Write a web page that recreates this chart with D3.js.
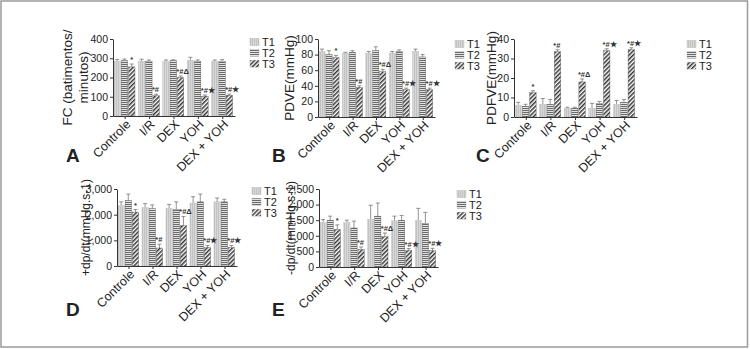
<!DOCTYPE html>
<html>
<head>
<meta charset="utf-8">
<script src="https://cdn.jsdelivr.net/npm/d3@7"></script>
<style>
  body { margin: 0; background: #fff; }
  svg text { font-family: "Liberation Sans Narrow", "Liberation Sans", Arial, sans-serif; fill: #222; }
  .axis path, .axis line { stroke: #333; stroke-width: 1; }
  .axis text { font-size: 10.5px; fill: #222; }
</style>
</head>
<body>
<div id="chart"></div>
<script>
//////////
// DATA //
//////////

var categories = ["Controle", "I/R", "DEX", "YOH", "DEX + YOH"];
var seriesNames = ["T1", "T2", "T3"];
var marks = ["*", "*#", "*#\u0394", "*#\u2605", "*#\u2605"];

// A - FC
var fcMean = [[285, 288, 255], [285, 285, 105], [283, 288, 200], [290, 285, 103], [283, 285, 108]];
var fcErr  = [[8, 8, 15], [10, 6, 8], [8, 4, 8], [15, 6, 6], [8, 8, 6]];
var fcTicks = [0, 100, 200, 300, 400];

// B - PDVE
var pdveMean = [[84, 80, 76], [82, 83, 38], [82, 85, 58], [82, 84, 35], [84, 77, 35]];
var pdveErr  = [[3, 5, 3], [1, 2, 2], [2, 5, 3], [2, 2, 2], [3, 3, 2]];
var pdveTicks = [0, 20, 40, 60, 80, 100];

// C - PDFVE
var pdfveMean = [[6, 5.5, 12.5], [6.5, 6.5, 33.5], [4.5, 4.5, 18], [4.5, 7, 34], [6.5, 7.5, 34.5]];
var pdfveErr  = [[1.5, 1, 1], [3, 2.5, 1], [0.5, 0.5, 1.5], [2.5, 1, 1], [2, 1.5, 1]];
var pdfveTicks = [0, 10, 20, 30, 40];

// D - +dp/dt
var dpPosMean = [[2350, 2550, 2100], [2280, 2230, 700], [2250, 2200, 1580], [2450, 2500, 720], [2500, 2500, 720]];
var dpPosErr  = [[150, 250, 100], [150, 150, 150], [150, 300, 350], [250, 300, 80], [150, 100, 80]];
var dpPosTicks = [0, 1000, 2000, 3000];

// E - -dp/dt
var dpNegMean = [[1420, 1500, 1200], [1420, 1250, 560], [1530, 1630, 970], [1480, 1500, 530], [1500, 1400, 520]];
var dpNegErr  = [[100, 130, 150], [80, 220, 80], [450, 420, 120], [150, 150, 60], [380, 350, 80]];
var dpNegTicks = [0, 500, 1000, 1500, 2000, 2500];

/////////
// SVG //
/////////

var svgWidth = 750, svgHeight = 349;

var svg = d3.select("#chart")
  .append("svg")
  .attr("width", svgWidth)
  .attr("height", svgHeight);

svg.append("rect")
  .attr("x", 1).attr("y", 1)
  .attr("width", 746.5).attr("height", 346)
  .attr("fill", "#fff")
  .attr("stroke", "#9a9a9a")
  .attr("stroke-width", 1.5);

// hatch patterns for the three time points
var defs = svg.append("defs");

var p1 = defs.append("pattern").attr("id", "patT1")
  .attr("patternUnits", "userSpaceOnUse").attr("width", 2).attr("height", 2);
p1.append("rect").attr("width", 2).attr("height", 2).attr("fill", "#d8d8d8");
p1.append("rect").attr("width", 1).attr("height", 2).attr("fill", "#c2c2c2");

var p2 = defs.append("pattern").attr("id", "patT2")
  .attr("patternUnits", "userSpaceOnUse").attr("width", 2).attr("height", 2);
p2.append("rect").attr("width", 2).attr("height", 2).attr("fill", "#e2e2e2");
p2.append("rect").attr("width", 2).attr("height", 1).attr("fill", "#6a6a6a");

var p3 = defs.append("pattern").attr("id", "patT3")
  .attr("patternUnits", "userSpaceOnUse").attr("width", 3).attr("height", 3)
  .attr("patternTransform", "rotate(45)");
p3.append("rect").attr("width", 3).attr("height", 3).attr("fill", "#fff");
p3.append("rect").attr("width", 1.5).attr("height", 3).attr("fill", "#333");

var fills = ["url(#patT1)", "url(#patT2)", "url(#patT3)"];

////////////
// PANELS //
////////////

var drawPanel = function(cfg) {
  var g = svg.append("g");

  var x = d3.scaleBand()
    .domain(categories)
    .range([cfg.x0, cfg.x1])
    .paddingInner(0)
    .paddingOuter(0);

  var xs = d3.scaleBand()
    .domain(seriesNames)
    .range([x.bandwidth() * 0.04, x.bandwidth() * 0.9])
    .paddingInner(0.12);

  var y = d3.scaleLinear()
    .domain([0, d3.max(cfg.ticks)])
    .range([cfg.y1, cfg.y0]);

  var rows = [];
  cfg.mean.forEach(function(m, i) {
    m.forEach(function(v, j) {
      rows.push({ cat: categories[i], ser: seriesNames[j], si: j, value: v, err: cfg.err[i][j], mark: j == 2 ? marks[i] : null });
    });
  });

  var bx = function(d) { return x(d.cat) + xs(d.ser); };

  // error bars (upper only)
  g.selectAll(".err")
    .data(rows)
    .enter().append("path")
    .attr("class", "err")
    .attr("fill", "none")
    .attr("stroke", "#777")
    .attr("stroke-width", 0.8)
    .attr("d", function(d) {
      var cx = bx(d) + xs.bandwidth() / 2;
      var top = y(d.value + d.err);
      return "M" + cx + "," + y(d.value) + "V" + top + "M" + (cx - 2) + "," + top + "H" + (cx + 2);
    });

  g.selectAll(".bar")
    .data(rows)
    .enter().append("rect")
    .attr("class", "bar")
    .attr("x", bx)
    .attr("width", xs.bandwidth())
    .attr("y", function(d) { return y(d.value); })
    .attr("height", function(d) { return y(0) - y(d.value); })
    .attr("fill", function(d) { return fills[d.si]; })
    .attr("stroke", function(d) { return d.si == 0 ? "#bbb" : "#555"; })
    .attr("stroke-width", 0.4);

  // significance marks over T3
  g.selectAll(".mark")
    .data(rows.filter(function(d) { return d.mark; }))
    .enter().append("text")
    .attr("class", "mark")
    .attr("x", function(d) { return d.mark.length == 1 ? bx(d) + xs.bandwidth() / 2 : bx(d) - 1; })
    .attr("y", function(d) { return y(d.value + d.err) - 2; })
    .style("text-anchor", function(d) { return d.mark.length == 1 ? "middle" : "start"; })
    .style("font-size", "7.5px")
    .style("font-weight", "bold")
    .style("fill", "#333")
    .text(function(d) { return d.mark; });

  g.append("g")
    .attr("class", "axis")
    .attr("transform", "translate(" + cfg.x0 + ",0)")
    .call(d3.axisLeft(y).tickValues(cfg.ticks).tickSize(3).tickSizeOuter(0).tickPadding(2));

  var xAxis = g.append("g")
    .attr("class", "axis")
    .attr("transform", "translate(0," + cfg.y1 + ")")
    .call(d3.axisBottom(x).tickSize(3).tickSizeOuter(0));

  xAxis.selectAll("text")
    .style("text-anchor", "end")
    .style("font-family", "'Liberation Sans', Arial, sans-serif")
    .style("font-size", "12.5px")
    .attr("x", 0)
    .attr("y", 0)
    .attr("dy", "0.35em")
    .attr("transform", "translate(3,6) rotate(-45)");

  // y label
  var ly = (cfg.y0 + cfg.y1) / 2;
  cfg.label.forEach(function(t, k) {
    g.append("text")
      .attr("transform", "translate(" + (cfg.labelX + k * 16) + "," + ly + ") rotate(-90)")
      .style("text-anchor", "middle")
      .style("font-size", cfg.labelSize + "px")
      .text(t);
  });

  // legend
  seriesNames.forEach(function(s, j) {
    g.append("rect")
      .attr("x", cfg.legX)
      .attr("y", cfg.legY + j * 10.8 - 3.5)
      .attr("width", 9)
      .attr("height", 7)
      .attr("fill", fills[j])
      .attr("stroke", "#999")
      .attr("stroke-width", 0.3);
    g.append("text")
      .attr("x", cfg.legX + 12)
      .attr("y", cfg.legY + j * 10.8 + 4)
      .style("font-size", "11px")
      .text(s);
  });

  g.append("text")
    .attr("x", cfg.letterX)
    .attr("y", cfg.letterY)
    .style("font-family", "'Liberation Sans', Arial, sans-serif")
    .style("font-size", "19px")
    .style("font-weight", "bold")
    .text(cfg.letter);
};

drawPanel({ mean: fcMean, err: fcErr, ticks: fcTicks, x0: 113, x1: 235, y0: 39, y1: 116,
  label: ["FC (batimentos/", "minutos)"], labelSize: 13.5, labelX: 72, legX: 250, legY: 42, letter: "A", letterX: 66, letterY: 162 });

drawPanel({ mean: pdveMean, err: pdveErr, ticks: pdveTicks, x0: 318, x1: 435, y0: 39, y1: 117,
  label: ["PDVE(mmHg)"], labelSize: 13.5, labelX: 294, legX: 455, legY: 44, letter: "B", letterX: 272, letterY: 162 });

drawPanel({ mean: pdfveMean, err: pdfveErr, ticks: pdfveTicks, x0: 514, x1: 637, y0: 39, y1: 117,
  label: ["PDFVE(mmHg)"], labelSize: 13.5, labelX: 496, legX: 687, legY: 44, letter: "C", letterX: 476, letterY: 162 });

drawPanel({ mean: dpPosMean, err: dpPosErr, ticks: dpPosTicks, x0: 117, x1: 237, y0: 189, y1: 266,
  label: ["+dp/dt(mmHg.s-1)"], labelSize: 12, labelX: 90, legX: 252, legY: 191, letter: "D", letterX: 66, letterY: 316 });

drawPanel({ mean: dpNegMean, err: dpNegErr, ticks: dpNegTicks, x0: 319, x1: 438, y0: 189, y1: 267,
  label: ["-dp/dt(mmHg.s-1)"], labelSize: 12, labelX: 295, legX: 457, legY: 194, letter: "E", letterX: 272, letterY: 316 });
</script>
</body>
</html>
